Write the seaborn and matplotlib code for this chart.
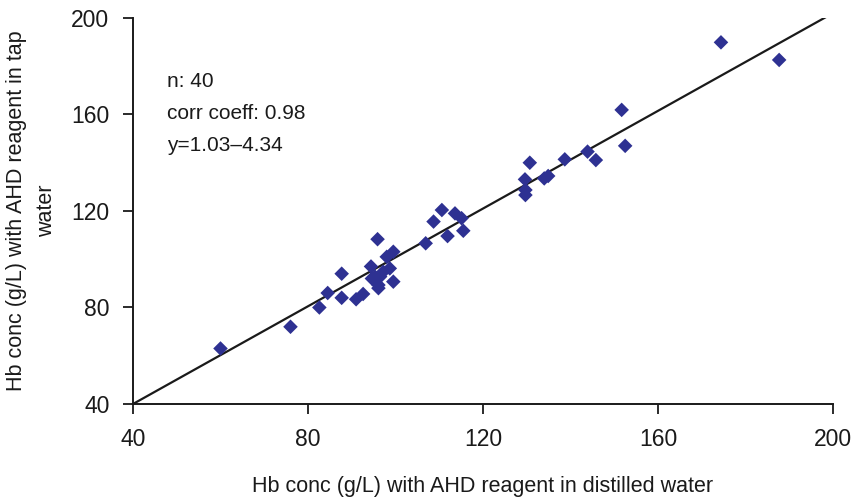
import numpy as np
import pandas as pd
import matplotlib
matplotlib.use("Agg")
import matplotlib.pyplot as plt
import seaborn as sns

# Hb concentrations (g/L)
distilled = [60, 76, 82.6, 84.5, 87.7, 87.7, 91, 92.6, 94.4, 94.6,
             95.9, 96.1, 96.5, 98, 98.7, 99.5, 99.5, 106.9, 108.7, 110.6,
             111.9, 113.6, 115.1, 115.5, 129.6, 129.7, 129.7, 130.7, 134, 134.9,
             138.7, 143.9, 145.8, 152.5, 151.7, 174.4, 187.7, 95.3, 97.2, 96.1]
tap = [63, 72, 80, 86, 84, 94, 83.4, 85.6, 97, 92,
       108.3, 89.3, 92.8, 101, 96.2, 103.1, 90.7, 106.6, 115.6, 120.4,
       109.6, 119, 117, 111.8, 133.1, 128.7, 126.6, 140, 133.5, 134.5,
       141.4, 144.6, 141.1, 147, 161.9, 189.9, 182.6, 92.8, 94.8, 88]

fit_x = [40, 200]
fit_y = [40, 202]

ticks = [40, 80, 120, 160, 200]
stats_text = ["n: 40", "corr coeff: 0.98", "y=1.03\u20134.34"]

df = pd.DataFrame({"distilled": distilled, "tap": tap})

sns.set_style("ticks")
plt.rcParams["font.family"] = ["Liberation Sans", "DejaVu Sans"]
ink = "#1a1a1a"

fig = plt.figure(figsize=(8.51, 4.98), dpi=100)
ax = fig.add_axes([0.1563, 0.1888, 0.8225, 0.7751])

ax.plot(fit_x, fit_y, color=ink, lw=1.6, zorder=1)
sns.scatterplot(data=df, x="distilled", y="tap", marker="D", s=55,
                color="#2E3192", edgecolor="none", ax=ax, zorder=2)

ax.set_xlim(40, 200)
ax.set_ylim(40, 200)
ax.set_xticks(ticks)
ax.set_yticks(ticks)
ax.tick_params(axis="both", direction="out", length=7, width=1.3,
               labelsize=16.5, color=ink, labelcolor=ink, pad=10)
sns.despine(ax=ax)
for side in ["left", "bottom"]:
    ax.spines[side].set_linewidth(1.4)
    ax.spines[side].set_color(ink)

ax.set_xlabel("Hb conc (g/L) with AHD reagent in distilled water",
              fontsize=15.5, labelpad=18, color=ink)
ax.set_ylabel("Hb conc (g/L) with AHD reagent in tap\nwater",
              fontsize=15.5, labelpad=10, linespacing=1.6, color=ink)

for i, line in enumerate(stats_text):
    ax.text(0.049, 0.835 - i * 0.083, line, transform=ax.transAxes,
            fontsize=15, va="center", color=ink)

fig.savefig("out.png", dpi=100)
